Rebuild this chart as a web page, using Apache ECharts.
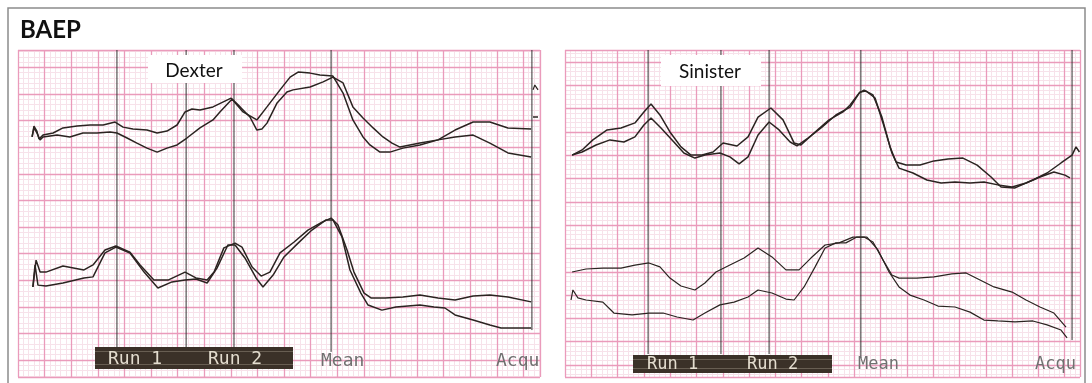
<!DOCTYPE html>
<html><head><meta charset="utf-8">
<script src="https://cdn.jsdelivr.net/npm/echarts@6/dist/echarts.min.js"></script>
<style>html,body{margin:0;padding:0;background:#fff;}#c{width:1092px;height:383px;}</style>
</head><body><div id="c"></div>
<script>
// ===== DATA (x: major divisions of time, y: major divisions of amplitude) =====
// Dexter (left panel), upper pair
const leftAx = [0.53,0.60,0.71,0.79,0.94,1.32,1.69,2.22,2.71,3.20,3.65,3.95,4.32,4.85,5.23,5.60,5.98,6.28,6.54,6.84,7.33,8.01,8.46,8.98,9.36,9.85,10.23,10.53,10.98,11.35,11.84,12.22,12.59,12.97,13.23,13.61,13.98,14.47,15.11,15.79,16.43,17.11,17.74,18.42,19.29];
const leftAy = [8.31,8.72,8.53,8.23,8.38,8.46,8.65,8.72,8.76,8.76,8.87,8.68,8.61,8.57,8.46,8.53,8.76,9.25,9.36,9.32,9.44,9.77,9.25,8.95,9.44,10.08,10.56,10.75,10.71,10.64,10.60,9.96,8.95,8.31,8.01,7.74,7.74,7.89,8.01,8.20,8.31,8.38,8.08,7.71,7.56];
const leftBx = [0.53,0.60,0.71,0.83,0.94,1.47,1.95,2.44,2.97,3.46,3.72,4.10,4.47,4.85,5.23,5.60,5.98,6.35,6.84,7.33,7.59,8.05,8.35,8.72,8.98,9.17,9.36,9.74,10.11,10.34,10.98,11.47,11.84,12.22,12.59,12.97,13.35,13.72,14.06,14.36,15.11,15.79,16.43,17.11,17.74,18.42,19.29];
const leftBy = [8.31,8.65,8.46,8.20,8.31,8.38,8.31,8.46,8.46,8.50,8.46,8.27,8.08,7.89,7.74,7.89,8.01,8.27,8.65,8.95,9.25,9.74,9.44,9.06,8.57,8.61,8.83,9.59,10.00,10.08,10.19,10.38,10.56,10.34,9.44,9.02,8.65,8.31,8.08,7.93,8.08,8.20,8.57,8.87,8.87,8.65,8.61];
// Dexter, lower pair
const leftCx = [0.56,0.68,0.83,1.05,1.69,2.48,2.82,3.27,3.68,4.21,4.59,5.11,5.64,6.28,6.69,7.11,7.37,7.74,8.16,8.42,8.80,9.14,9.47,9.85,10.38,10.90,11.43,11.77,12.03,12.37,12.63,13.01,13.27,13.80,14.47,15.11,15.79,16.43,17.11,17.74,18.42,19.29];
const leftCy = [2.67,3.68,3.23,3.23,3.46,3.31,3.50,4.06,4.21,3.98,3.50,2.93,2.93,3.23,3.01,2.93,3.23,4.14,4.32,4.17,3.42,3.08,3.23,3.95,4.36,4.81,5.11,5.26,5.00,4.06,3.23,2.44,2.26,2.26,2.29,2.37,2.26,2.18,2.33,2.37,2.29,2.11];
const leftDx = [0.56,0.64,0.75,1.05,1.69,2.48,2.82,3.27,3.68,4.21,4.74,5.26,5.79,6.28,6.69,7.11,7.48,7.89,8.16,8.53,8.95,9.21,9.59,10.00,10.53,11.05,11.58,11.84,12.18,12.48,12.89,13.16,13.68,14.21,15.11,15.64,16.05,16.43,17.11,17.74,18.16,18.80,19.29];
const leftDy = [2.67,3.50,2.74,2.71,2.82,3.01,3.05,3.95,4.17,3.95,3.23,2.63,2.86,2.93,2.97,2.82,3.38,4.25,4.25,3.76,3.01,2.67,3.12,3.80,4.32,4.81,5.19,5.19,4.55,3.31,2.44,1.99,1.80,1.92,1.99,1.92,1.88,1.62,1.43,1.24,1.13,1.13,1.13];
// small trace ends past the last cursor (left)
const leftStubAx = [19.36,19.43,19.55];
const leftStubAy = [10.08,10.26,10.08];
const leftStubBx = [19.36,19.55];
const leftStubBy = [9.06,9.06];

// Sinister (right panel), upper pair
const rightEx = [0.27,0.65,1.06,1.60,2.13,2.66,3.00,3.27,3.61,3.99,4.41,4.79,5.21,5.63,6.01,6.54,6.96,7.34,7.83,8.29,8.71,8.97,9.51,10.04,10.57,10.84,11.18,11.37,11.71,12.05,12.36,12.59,12.97,13.50,14.03,14.56,15.13,15.67,16.20,16.58,17.11,17.79,18.33,18.86,19.28,19.43,19.56];
const rightEy = [9.01,9.23,9.66,10.09,10.17,10.39,10.86,11.20,10.73,10.00,9.36,9.01,9.01,9.14,9.53,9.40,9.79,10.64,11.03,10.52,9.53,9.44,10.00,10.52,10.86,11.16,11.67,11.80,11.59,10.64,9.36,8.71,8.58,8.58,8.76,8.84,8.88,8.58,8.07,7.64,7.60,7.94,8.24,8.67,9.01,9.36,9.14];
const rightFx = [0.27,0.65,1.18,1.71,2.24,2.66,3.00,3.27,3.65,4.14,4.52,4.94,5.32,5.89,6.27,6.62,6.96,7.34,7.76,8.14,8.56,8.82,9.24,9.77,10.30,10.84,11.22,11.44,11.79,12.09,12.43,12.70,13.23,13.76,14.30,14.83,15.40,15.93,16.46,17.00,17.53,18.06,18.59,19.01,19.20];
const rightFy = [9.01,9.14,9.44,9.66,9.57,9.79,10.30,10.60,10.17,9.57,9.10,8.88,9.01,9.10,8.93,8.63,8.93,9.87,10.43,10.09,9.57,9.40,9.74,10.21,10.73,11.07,11.72,11.76,11.46,10.39,9.10,8.45,8.24,7.94,7.81,7.85,7.81,7.85,7.73,7.64,7.81,8.07,8.28,8.15,8.03];
// Sinister, lower pair
const rightGx = [0.27,0.80,1.44,2.13,2.66,3.19,3.61,3.99,4.41,4.94,5.32,5.74,6.27,6.81,7.34,7.87,8.40,8.90,9.35,9.89,10.42,10.95,11.37,11.71,12.09,12.43,12.70,13.38,14.03,14.71,15.25,15.78,16.31,17.00,17.53,18.06,18.59,19.05];
const rightGy = [3.99,4.12,4.16,4.16,4.29,4.38,4.21,3.73,3.39,3.22,3.52,3.99,4.29,4.59,5.02,4.64,4.08,4.08,4.59,5.15,5.24,5.49,5.49,5.28,4.51,3.86,3.73,3.73,3.78,3.91,3.95,3.65,3.35,3.13,2.79,2.49,2.23,1.63];
const rightHx = [0.23,0.30,0.49,0.80,1.44,1.86,2.55,3.19,3.73,4.26,4.87,5.32,5.89,6.43,6.96,7.34,7.87,8.40,8.71,9.09,9.51,9.89,10.30,10.68,11.10,11.48,11.90,12.32,12.70,13.12,13.65,14.18,14.83,15.40,15.93,16.46,17.11,17.79,18.33,18.86,19.09];
const rightHy = [2.79,3.22,2.88,2.79,2.70,2.23,2.15,2.23,2.23,2.06,1.93,2.23,2.58,2.70,2.92,3.22,3.09,2.83,2.79,3.35,4.21,5.02,5.24,5.24,5.49,5.49,4.94,3.99,3.35,3.00,2.79,2.53,2.49,2.27,1.93,1.89,1.85,1.89,1.72,1.50,1.16];

// cursor (marker) lines: x position and lower end (they start at the top of the panel)
const leftCursorX   = [3.72, 6.32, 8.12, 11.77, 19.32];
const leftCursorEnd = [0.41, 0.41, 0.41, 0.23, 1.05];
const rightCursorX   = [3.16, 5.93, 7.76, 11.25, 19.28];
const rightCursorEnd = [0.47, 0.47, 0.47, 0.30, 1.07];

// text
const titleText = 'BAEP';
const panelNames = ['Dexter', 'Sinister'];
const runLabels = ['Run 1', 'Run 2'];
const stripLabels = ['Mean', 'Acqu'];

// ===== axis ranges =====
const L_XMAX = 19.624, R_XMAX = 19.582;
const L_YMIN = -0.714, L_YMAX = 11.579;       // data axis (left)
const L_GMIN = -0.639, L_GMAX = 11.654;       // grid axis (left)
const R_YMIN = -0.515, R_YMAX = 13.519;       // data + grid axis (right)

const majorStyle = {color:'#ea9bbb', width:1.3};
const minorStyle = {color:'#f7e2ea', width:1};
const hidden = {axisLine:{show:false}, axisTick:{show:false}, axisLabel:{show:false}};

function xAx(gi, max, interval, style, z){
  return Object.assign({type:'value', gridIndex:gi, min:0, max:max, interval:interval, z:z,
    splitLine:{show:true, lineStyle:style}}, hidden);
}
function yAx(gi, min, max, step, style, z){
  const o = Object.assign({type:'value', gridIndex:gi, min:min, max:max, z:z}, hidden);
  if (step) { o.minInterval = step; o.maxInterval = step; o.splitNumber = Math.round((max-min)/step); o.splitLine = {show:true, lineStyle:style}; }
  else { o.splitLine = {show:false}; }
  return o;
}
const zip = (xs, ys) => xs.map((x,i) => [x, ys[i]]);
const TRACE = '#2b2421';
function trace(xs, ys, xi, yi, w){
  return {type:'line', xAxisIndex:xi, yAxisIndex:yi, data:zip(xs,ys), symbol:'none', silent:true,
    lineStyle:{color:TRACE, width:w||1.5}, z:3};
}
function cursor(x, end, top, xi, yi){
  return {type:'line', xAxisIndex:xi, yAxisIndex:yi, data:[[x, top],[x, end]], symbol:'none', silent:true,
    lineStyle:{color:'#333131', width:1}, z:2};
}

const series = [
  trace(leftAx, leftAy, 1, 2), trace(leftBx, leftBy, 1, 2),
  trace(leftCx, leftCy, 1, 2), trace(leftDx, leftDy, 1, 2),
  trace(leftStubAx, leftStubAy, 1, 2, 1.2), trace(leftStubBx, leftStubBy, 1, 2, 1.6),
  trace(rightEx, rightEy, 3, 4), trace(rightFx, rightFy, 3, 4),
  trace(rightGx, rightGy, 3, 4, 1.2), trace(rightHx, rightHy, 3, 4, 1.2)
];
leftCursorX.forEach((x,i) => series.push(cursor(x, leftCursorEnd[i], L_YMAX, 1, 2)));
rightCursorX.forEach((x,i) => series.push(cursor(x, rightCursorEnd[i], R_YMAX, 3, 4)));

function txt(x, y, text, font, fill, align){
  return {type:'text', x:x, y:y, z:20, silent:true,
    style:{text:text, font:font, fill:fill, align:align||'left', verticalAlign:'middle',
           textAlign:align||'left', textVerticalAlign:'middle'}};
}
function bar(x, y, w, h){
  return [
    {type:'rect', z:15, silent:true, shape:{x:x, y:y, width:w, height:h}, style:{fill:'#3b3128'}},
    {type:'line', z:16, silent:true, shape:{x1:x, y1:y+4.5, x2:x+w, y2:y+4.5}, style:{stroke:'rgba(190,180,160,0.35)', lineWidth:1}},
    {type:'line', z:16, silent:true, shape:{x1:x, y1:y+h-4.5, x2:x+w, y2:y+h-4.5}, style:{stroke:'rgba(190,180,160,0.35)', lineWidth:1}}
  ];
}
const LCD = '18px "DejaVu Sans Mono", monospace';
const LCD2 = '17px "DejaVu Sans Mono", monospace';

const graphic = [
  {type:'rect', z:-1, silent:true, shape:{x:8, y:8, width:1077, height:395}, style:{fill:'none', stroke:'#8c8c8c', lineWidth:1.5}},
  txt(20, 30, titleText, 'bold 24px Lato', '#111'),
  {type:'rect', z:15, silent:true, shape:{x:148, y:55, width:94, height:28}, style:{fill:'#ffffff'}},
  txt(194, 71, panelNames[0], '19px Lato', '#111', 'center'),
  {type:'rect', z:15, silent:true, shape:{x:661, y:55, width:100, height:31}, style:{fill:'#ffffff'}},
  txt(710, 72, panelNames[1], '19px Lato', '#111', 'center'),
  ...bar(95, 347, 198, 22),
  txt(108, 359, runLabels[0], LCD, '#e4ddcf'),
  txt(208, 359, runLabels[1], LCD, '#e4ddcf'),
  txt(321, 361, stripLabels[0], LCD, '#707070'),
  txt(496, 361, stripLabels[1], LCD, '#707070'),
  ...bar(633, 355, 199, 18),
  txt(647, 364.5, runLabels[0], LCD2, '#e4ddcf'),
  txt(747, 364.5, runLabels[1], LCD2, '#e4ddcf'),
  txt(858, 364.5, stripLabels[0], LCD2, '#707070'),
  txt(1035, 364.5, stripLabels[1], LCD2, '#707070')
];

const option = {
  animation:false,
  backgroundColor:'#ffffff',
  grid:[
    {left:18, top:50, width:522, height:327, outerBoundsMode:'none'},
    {left:565, top:50, width:515, height:327, outerBoundsMode:'none'}
  ],
  xAxis:[
    xAx(0, L_XMAX, 0.2, minorStyle, 0),
    xAx(0, L_XMAX, 1, majorStyle, 1),
    xAx(1, R_XMAX, 0.2, minorStyle, 0),
    xAx(1, R_XMAX, 1, majorStyle, 1)
  ],
  yAxis:[
    yAx(0, L_GMIN, L_GMAX, 0.2, minorStyle, 0),
    yAx(0, L_GMIN, L_GMAX, 1, majorStyle, 1),
    yAx(0, L_YMIN, L_YMAX, null, null, 1),
    yAx(1, R_YMIN, R_YMAX, 0.2, minorStyle, 0),
    yAx(1, R_YMIN, R_YMAX, 1, majorStyle, 1)
  ],
  series:series,
  graphic:graphic
};
const chart = echarts.init(document.getElementById('c'), null, {renderer:'canvas'});
chart.setOption(option);
</script></body></html>
